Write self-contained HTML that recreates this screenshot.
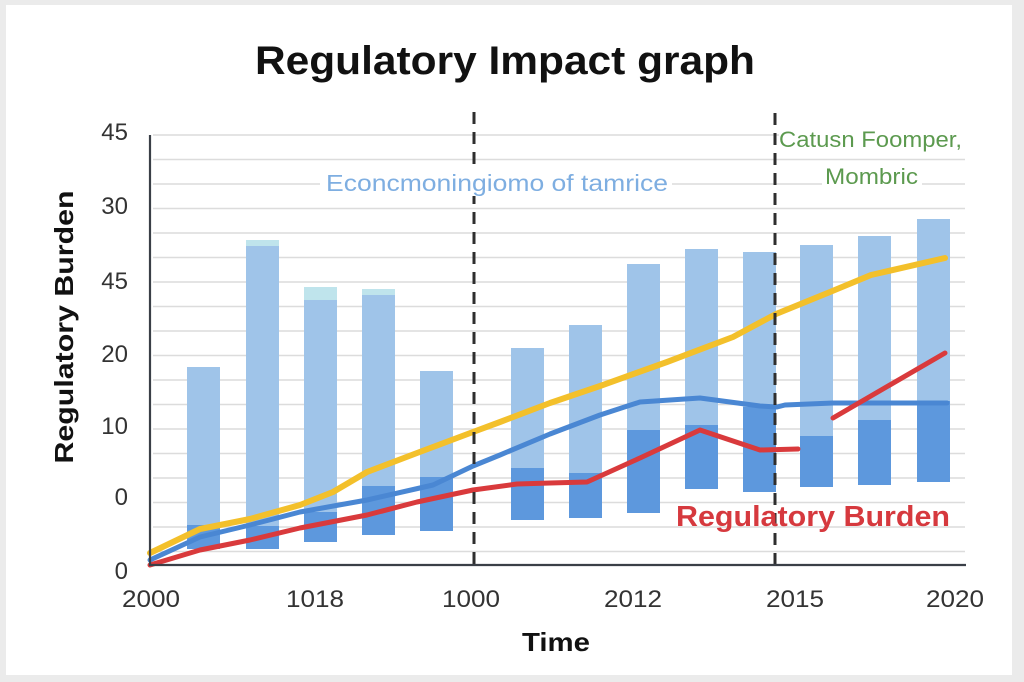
<!DOCTYPE html>
<html>
<head>
<meta charset="utf-8">
<style>
html,body{margin:0;padding:0;background:#ebebeb;}
svg{display:block;}
</style>
</head>
<body>
<svg width="1024" height="682" viewBox="0 0 1024 682" xmlns="http://www.w3.org/2000/svg" font-family="'Liberation Sans', sans-serif">
  <rect x="0" y="0" width="1024" height="682" fill="#ebebeb"/>
  <rect x="6" y="5" width="1006" height="670" fill="#ffffff"/>

  <!-- title -->
  <text x="505" y="74" text-anchor="middle" font-size="40" font-weight="bold" fill="#111" textLength="500" lengthAdjust="spacingAndGlyphs">Regulatory Impact graph</text>

  <!-- gridlines -->
  <g stroke="#dcdcdc" stroke-width="1.6">
    <line x1="153" y1="135" x2="965" y2="135"/>
    <line x1="153" y1="159.5" x2="965" y2="159.5"/>
    <line x1="153" y1="184" x2="965" y2="184"/>
    <line x1="153" y1="208.5" x2="965" y2="208.5"/>
    <line x1="153" y1="233" x2="965" y2="233"/>
    <line x1="153" y1="257.5" x2="965" y2="257.5"/>
    <line x1="153" y1="282" x2="965" y2="282"/>
    <line x1="153" y1="306.5" x2="965" y2="306.5"/>
    <line x1="153" y1="331" x2="965" y2="331"/>
    <line x1="153" y1="355.5" x2="965" y2="355.5"/>
    <line x1="153" y1="380" x2="965" y2="380"/>
    <line x1="153" y1="404.5" x2="965" y2="404.5"/>
    <line x1="153" y1="429" x2="965" y2="429"/>
    <line x1="153" y1="453.5" x2="965" y2="453.5"/>
    <line x1="153" y1="478" x2="965" y2="478"/>
    <line x1="153" y1="502.5" x2="965" y2="502.5"/>
    <line x1="153" y1="527" x2="965" y2="527"/>
    <line x1="153" y1="551.5" x2="965" y2="551.5"/>
  </g>

  <!-- bars: light part -->
  <g fill="#9fc4e9">
    <rect x="187" y="367" width="33" height="158"/>
    <rect x="246" y="246" width="33" height="280"/>
    <rect x="304" y="300" width="33" height="212"/>
    <rect x="362" y="295" width="33" height="191"/>
    <rect x="420" y="371" width="33" height="106"/>
    <rect x="511" y="348" width="33" height="120"/>
    <rect x="569" y="325" width="33" height="148"/>
    <rect x="627" y="264" width="33" height="166"/>
    <rect x="685" y="249" width="33" height="176"/>
    <rect x="743" y="252" width="33" height="155"/>
    <rect x="800" y="245" width="33" height="191"/>
    <rect x="858" y="236" width="33" height="184"/>
    <rect x="917" y="219" width="33" height="182"/>
  </g>
  <!-- caps -->
  <g fill="#bfe4ec">
    <rect x="246" y="240" width="33" height="6"/>
    <rect x="304" y="287" width="33" height="13"/>
    <rect x="362" y="289" width="33" height="6"/>
  </g>
  <!-- bars: dark part -->
  <g fill="#5d98dd">
    <rect x="187" y="525" width="33" height="24"/>
    <rect x="246" y="526" width="33" height="23"/>
    <rect x="304" y="512" width="33" height="30"/>
    <rect x="362" y="486" width="33" height="49"/>
    <rect x="420" y="477" width="33" height="54"/>
    <rect x="511" y="468" width="33" height="52"/>
    <rect x="569" y="473" width="33" height="45"/>
    <rect x="627" y="430" width="33" height="83"/>
    <rect x="685" y="425" width="33" height="64"/>
    <rect x="743" y="407" width="33" height="85"/>
    <rect x="800" y="436" width="33" height="51"/>
    <rect x="858" y="420" width="33" height="65"/>
    <rect x="917" y="401" width="33" height="81"/>
  </g>

  <!-- lines -->
  <polyline fill="none" stroke="#f3c02b" stroke-width="6" stroke-linejoin="round" stroke-linecap="round"
    points="150,553 175,541 200,529 250,519 300,505 333,492 367,472 417,453 473,432 500,422 550,403 600,386 667,362 733,337 776,314 830,292 871,275 945,258"/>
  <polyline fill="none" stroke="#4a87d3" stroke-width="5" stroke-linejoin="round" stroke-linecap="round"
    points="150,560 200,537 250,525 300,512 367,500 433,485 473,466 500,455 550,434 600,415 640,402 700,398 760,406 777,407 785,405 833,403 947,403"/>
  <polyline fill="none" stroke="#d93a3c" stroke-width="5" stroke-linejoin="round" stroke-linecap="round"
    points="150,565 200,550 250,540 300,528 367,515 417,502 473,490 517,484 550,483 587,482 640,458 700,430 760,450 798,449"/>
  <polyline fill="none" stroke="#d93a3c" stroke-width="5" stroke-linejoin="round" stroke-linecap="round"
    points="833,418 945,353"/>

  <!-- dashed vertical lines -->
  <g stroke="#2e2e2e" stroke-width="3" stroke-dasharray="12,8">
    <line x1="474" y1="112" x2="474" y2="565"/>
    <line x1="775" y1="113" x2="775" y2="565"/>
  </g>

  <!-- axes -->
  <line x1="150" y1="135" x2="150" y2="566" stroke="#3a3f47" stroke-width="2.2"/>
  <line x1="149" y1="565" x2="966" y2="565" stroke="#3a3f47" stroke-width="2.2"/>

  <!-- annotations -->
  <rect x="320" y="172" width="352" height="24" fill="#fff"/>
  <text x="326" y="191" font-size="23" fill="#7eaee1" textLength="342" lengthAdjust="spacingAndGlyphs">Econcmoningiomo of tamrice</text>
  <rect x="779" y="127" width="186" height="24" fill="#fff"/>
  <rect x="822" y="164" width="100" height="24" fill="#fff"/>
  <text x="779" y="147" font-size="22" fill="#5c9a4f" textLength="183" lengthAdjust="spacingAndGlyphs">Catusn Foomper,</text>
  <text x="825" y="184" font-size="22" fill="#5c9a4f" textLength="93" lengthAdjust="spacingAndGlyphs">Mombric</text>
  <text x="676" y="526" font-size="29" font-weight="bold" fill="#d6393e" textLength="274" lengthAdjust="spacingAndGlyphs">Regulatory Burden</text>

  <!-- y tick labels -->
  <g font-size="24" fill="#333" text-anchor="end">
    <text x="128" y="140">45</text>
    <text x="128" y="214">30</text>
    <text x="128" y="289">45</text>
    <text x="128" y="362">20</text>
    <text x="128" y="434">10</text>
    <text x="128" y="505">0</text>
    <text x="128" y="579">0</text>
  </g>

  <!-- x tick labels -->
  <g font-size="24" fill="#333" text-anchor="middle">
    <text x="151" y="607" textLength="58" lengthAdjust="spacingAndGlyphs">2000</text>
    <text x="315" y="607" textLength="58" lengthAdjust="spacingAndGlyphs">1018</text>
    <text x="471" y="607" textLength="58" lengthAdjust="spacingAndGlyphs">1000</text>
    <text x="633" y="607" textLength="58" lengthAdjust="spacingAndGlyphs">2012</text>
    <text x="795" y="607" textLength="58" lengthAdjust="spacingAndGlyphs">2015</text>
    <text x="955" y="607" textLength="58" lengthAdjust="spacingAndGlyphs">2020</text>
  </g>

  <!-- axis titles -->
  <text x="556" y="651" font-size="26" font-weight="bold" fill="#111" text-anchor="middle" textLength="68" lengthAdjust="spacingAndGlyphs">Time</text>
  <text transform="translate(73,327) rotate(-90)" font-size="26" font-weight="bold" fill="#111" text-anchor="middle" textLength="273" lengthAdjust="spacingAndGlyphs">Regulatory Burden</text>
</svg>
</body>
</html>
